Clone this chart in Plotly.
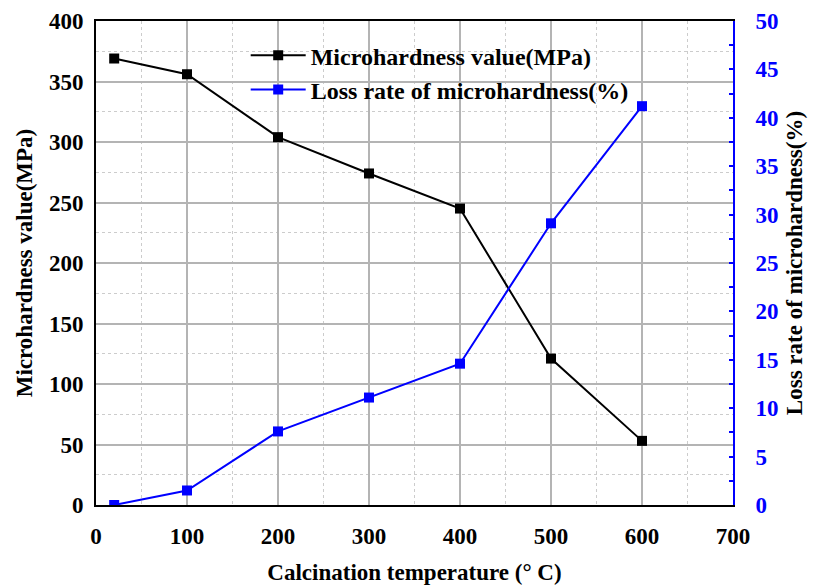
import plotly.graph_objects as go

temps = [20, 100, 200, 300, 400, 500, 600]
microhardness = [369, 356, 304, 274, 245, 121, 53]
loss_rate = [0, 1.5, 7.6, 11.1, 14.6, 29.1, 41.2]

FONT = "Liberation Serif"
GRID = "#b4b4b4"
MINOR = "#cccccc"

fig = go.Figure()
fig.add_trace(go.Scatter(
    x=temps, y=microhardness, mode="lines+markers",
    name="Microhardness value(MPa)",
    line=dict(color="black", width=2),
    marker=dict(symbol="square", size=10, color="black"),
))
fig.add_trace(go.Scatter(
    x=temps, y=loss_rate, mode="lines+markers",
    name="Loss rate of microhardness(%)", yaxis="y2",
    line=dict(color="#0000ff", width=2),
    marker=dict(symbol="square", size=10, color="#0000ff"),
))

tickfont = dict(family=FONT, size=23, color="black", weight="bold")
titlefont = dict(family=FONT, size=23, color="black", weight="bold")
fig.update_layout(
    width=815, height=588,
    margin=dict(l=96, r=82, t=21, b=83),
    plot_bgcolor="white", paper_bgcolor="white",
    font=dict(family=FONT, size=20, color="black"),
    showlegend=True,
    legend=dict(
        x=0.235, y=0.975, xanchor="left", yanchor="top",
        bgcolor="rgba(0,0,0,0)", itemwidth=55,
        font=dict(family=FONT, size=24, color="black", weight="bold"),
        tracegroupgap=0,
    ),
    xaxis=dict(
        range=[0, 700], tickvals=[0, 100, 200, 300, 400, 500, 600, 700],
        showline=True, linecolor="black", linewidth=2, mirror=True,
        showgrid=True, gridcolor=GRID, gridwidth=1.5, automargin=False,
        zeroline=False, ticks="", tickfont=tickfont, ticklabelstandoff=9,
        minor=dict(dtick=50, showgrid=True, gridcolor=MINOR, griddash="dot", gridwidth=1),
        title=dict(text="Calcination temperature (° C)", font=titlefont, standoff=16),
    ),
    yaxis=dict(
        range=[0, 400], dtick=50,
        showline=True, linecolor="black", linewidth=2, automargin=False,
        showgrid=True, gridcolor=GRID, gridwidth=1.5,
        zeroline=False, ticks="", tickfont=tickfont, ticklabelstandoff=6,
        minor=dict(dtick=25, showgrid=True, gridcolor=MINOR, griddash="dot", gridwidth=1),
        title=dict(text="Microhardness value(MPa)", font=titlefont, standoff=10),
    ),
    yaxis2=dict(
        range=[0, 50], dtick=5, overlaying="y", side="right",
        showline=True, linecolor="#0000ff", linewidth=2, automargin=False,
        showgrid=False, zeroline=False,
        ticks="inside", ticklen=4, tickcolor="#0000ff", tickwidth=1.5,
        ticklabelstandoff=16,
        tickfont=dict(family=FONT, size=23, color="#0000ff", weight="bold"),
        minor=dict(dtick=2.5, ticks="inside", ticklen=4, tickcolor="#0000ff", showgrid=False),
        title=dict(text="Loss rate of microhardness(%)", font=titlefont, standoff=8),
    ),
)

fig.write_html("out.html")
